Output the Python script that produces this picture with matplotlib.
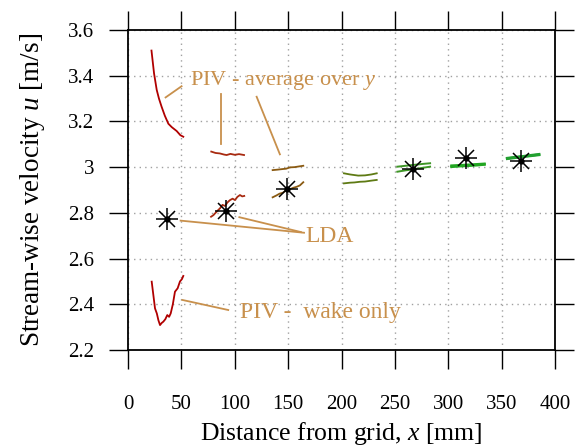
import numpy as np
import matplotlib
matplotlib.use("Agg")
from matplotlib import pyplot as plt

plt.rcParams['font.family'] = ['Liberation Serif', 'DejaVu Serif']
plt.rcParams['mathtext.fontset'] = 'custom'
plt.rcParams['mathtext.rm'] = 'Liberation Serif'
plt.rcParams['mathtext.it'] = 'Liberation Serif:italic'

# PIV windows: spatial average over y (x in mm, u in m/s)
avg_x = [
    [22, 24.4, 26.9, 29, 31.5, 34.5, 37.8, 41, 45.6, 49, 51.8],
    [78, 82, 86, 90, 92.4, 96, 100, 104, 108.7],
    [135.5, 140, 145.5, 148, 151.8, 156, 160, 164.2],
    [202.3, 208, 215.7, 222, 228, 233],
    [252.3, 260, 268, 276, 283],
    [303.2, 312, 320, 327, 333.8],
    [355.3, 362, 370, 378, 385],
]
avg_u = [
    [3.51, 3.41, 3.338, 3.30, 3.264, 3.225, 3.19, 3.175, 3.158, 3.14, 3.133],
    [3.068, 3.062, 3.060, 3.055, 3.053, 3.058, 3.054, 3.057, 3.053],
    [2.987, 2.989, 2.992, 2.993, 2.999, 3.000, 3.003, 3.006],
    [2.973, 2.968, 2.963, 2.964, 2.968, 2.973],
    [3.002, 3.006, 3.010, 3.014, 3.017],
    [3.006, 3.008, 3.010, 3.012, 3.014],
    [3.039, 3.043, 3.047, 3.052, 3.056],
]

# PIV windows: wake region only
wake_x = [
    [22.2, 23.5, 25.3, 27, 28.5, 30, 31.5, 33.1, 35, 36.8, 38.5, 40, 42, 44, 46.5, 48.7, 50.5, 51.8],
    [77.8, 80, 82, 84, 86.2, 88.5, 91, 93, 95.6, 98, 100.2, 102.5, 104.9, 107, 108.9],
    [135.5, 139, 142, 145, 148.6, 152, 155, 158, 161, 164.2],
    [202.3, 208, 212, 217.3, 222, 228, 233],
    [252.3, 260, 268, 276, 283],
    [303.2, 312, 320, 327, 333.8],
    [355.3, 362, 370, 378, 385],
]
wake_u = [
    [2.499, 2.45, 2.382, 2.36, 2.33, 2.309, 2.318, 2.324, 2.335, 2.353, 2.345, 2.36, 2.40, 2.455, 2.47, 2.50, 2.51, 2.524],
    [2.783, 2.79, 2.80, 2.81, 2.82, 2.835, 2.83, 2.845, 2.856, 2.862, 2.856, 2.87, 2.878, 2.872, 2.874],
    [2.868, 2.876, 2.884, 2.888, 2.90, 2.904, 2.91, 2.914, 2.92, 2.934],
    [2.929, 2.932, 2.933, 2.936, 2.937, 2.941, 2.944],
    [2.980, 2.986, 2.991, 2.997, 3.002],
    [3.002, 3.005, 3.007, 3.009, 3.012],
    [3.037, 3.041, 3.046, 3.050, 3.054],
]

window_colors = ['#b00000', '#a82a10', '#8a5a12', '#5e7a14', '#3e9626', '#22a622', '#22a030']
window_widths = [1.3, 1.3, 1.3, 1.3, 1.4, 2.0, 2.0]

# LDA measurements
lda_x = [36.8, 91.8, 149.2, 266.7, 316.6, 368.2]
lda_u = [2.773, 2.808, 2.903, 2.994, 3.039, 3.027]

ann_color = '#c8904c'

fig = plt.figure(figsize=(5.84, 4.48), dpi=100)
ax = fig.add_axes([128/584, 98/448, 427/584, 320/448])

for xs, us, c, w in zip(avg_x, avg_u, window_colors, window_widths):
    ax.plot(xs, us, color=c, lw=w, zorder=3)
for xs, us, c, w in zip(wake_x, wake_u, window_colors, window_widths):
    ax.plot(xs, us, color=c, lw=w, zorder=3)

# eight-armed asterisk with a dot at the centre
ax.plot(lda_x, lda_u, ls='none', marker='+', ms=16, mew=1.1, color='black', zorder=4)
ax.plot(lda_x, lda_u, ls='none', marker='x', ms=11.5, mew=1.1, color='black', zorder=4)
ax.plot(lda_x, lda_u, ls='none', marker='o', ms=3.5, color='black', zorder=4)

# annotations
ax.text(58, 3.381, r'PIV - average over $y$', color=ann_color, fontsize=16, va='center', ha='left')
ax.plot([35.2, 50.2], [3.305, 3.354], color=ann_color, lw=1.3)
ax.plot([87.5, 87.5], [3.32, 3.10], color=ann_color, lw=1.3)
ax.plot([120.5, 142.3], [3.308, 3.056], color=ann_color, lw=1.3)

ax.text(166, 2.697, 'LDA', color=ann_color, fontsize=17, va='center', ha='left')
ax.plot([49.3, 164.9], [2.766, 2.713], color=ann_color, lw=1.3)
ax.plot([104.3, 162], [2.781, 2.716], color=ann_color, lw=1.3)

ax.text(105, 2.366, 'PIV -  wake only', color=ann_color, fontsize=17, va='center', ha='left')
ax.plot([50.9, 93.9], [2.419, 2.375], color=ann_color, lw=1.3)

ax.set_xlim(0, 400)
ax.set_ylim(2.2, 3.6)
ax.set_xticks(np.arange(0, 401, 50))
ax.set_yticks(np.arange(2.2, 3.61, 0.2))
ax.set_yticklabels(['2.2', '2.4', '2.6', '2.8', '3', '3.2', '3.4', '3.6'])
ax.grid(True, color='#a0a0a0', ls=(0, (1, 3)), lw=1.0)
ax.set_axisbelow(True)
ax.tick_params(direction='out', length=13.5, width=1.0, labelsize=15,
               top=True, right=True, pad=4)
ax.tick_params(axis='x', pad=19)
ax.tick_params(axis='y', pad=11)
for s in ax.spines.values():
    s.set_linewidth(1.3)

ax.set_xlabel(r'Distance from grid, $x$ [mm]', fontsize=18.5, labelpad=4)
ax.set_ylabel(r'Stream-wise velocity $u$ [m/s]', fontsize=19.5, labelpad=15)

fig.savefig('out.png', dpi=100)
